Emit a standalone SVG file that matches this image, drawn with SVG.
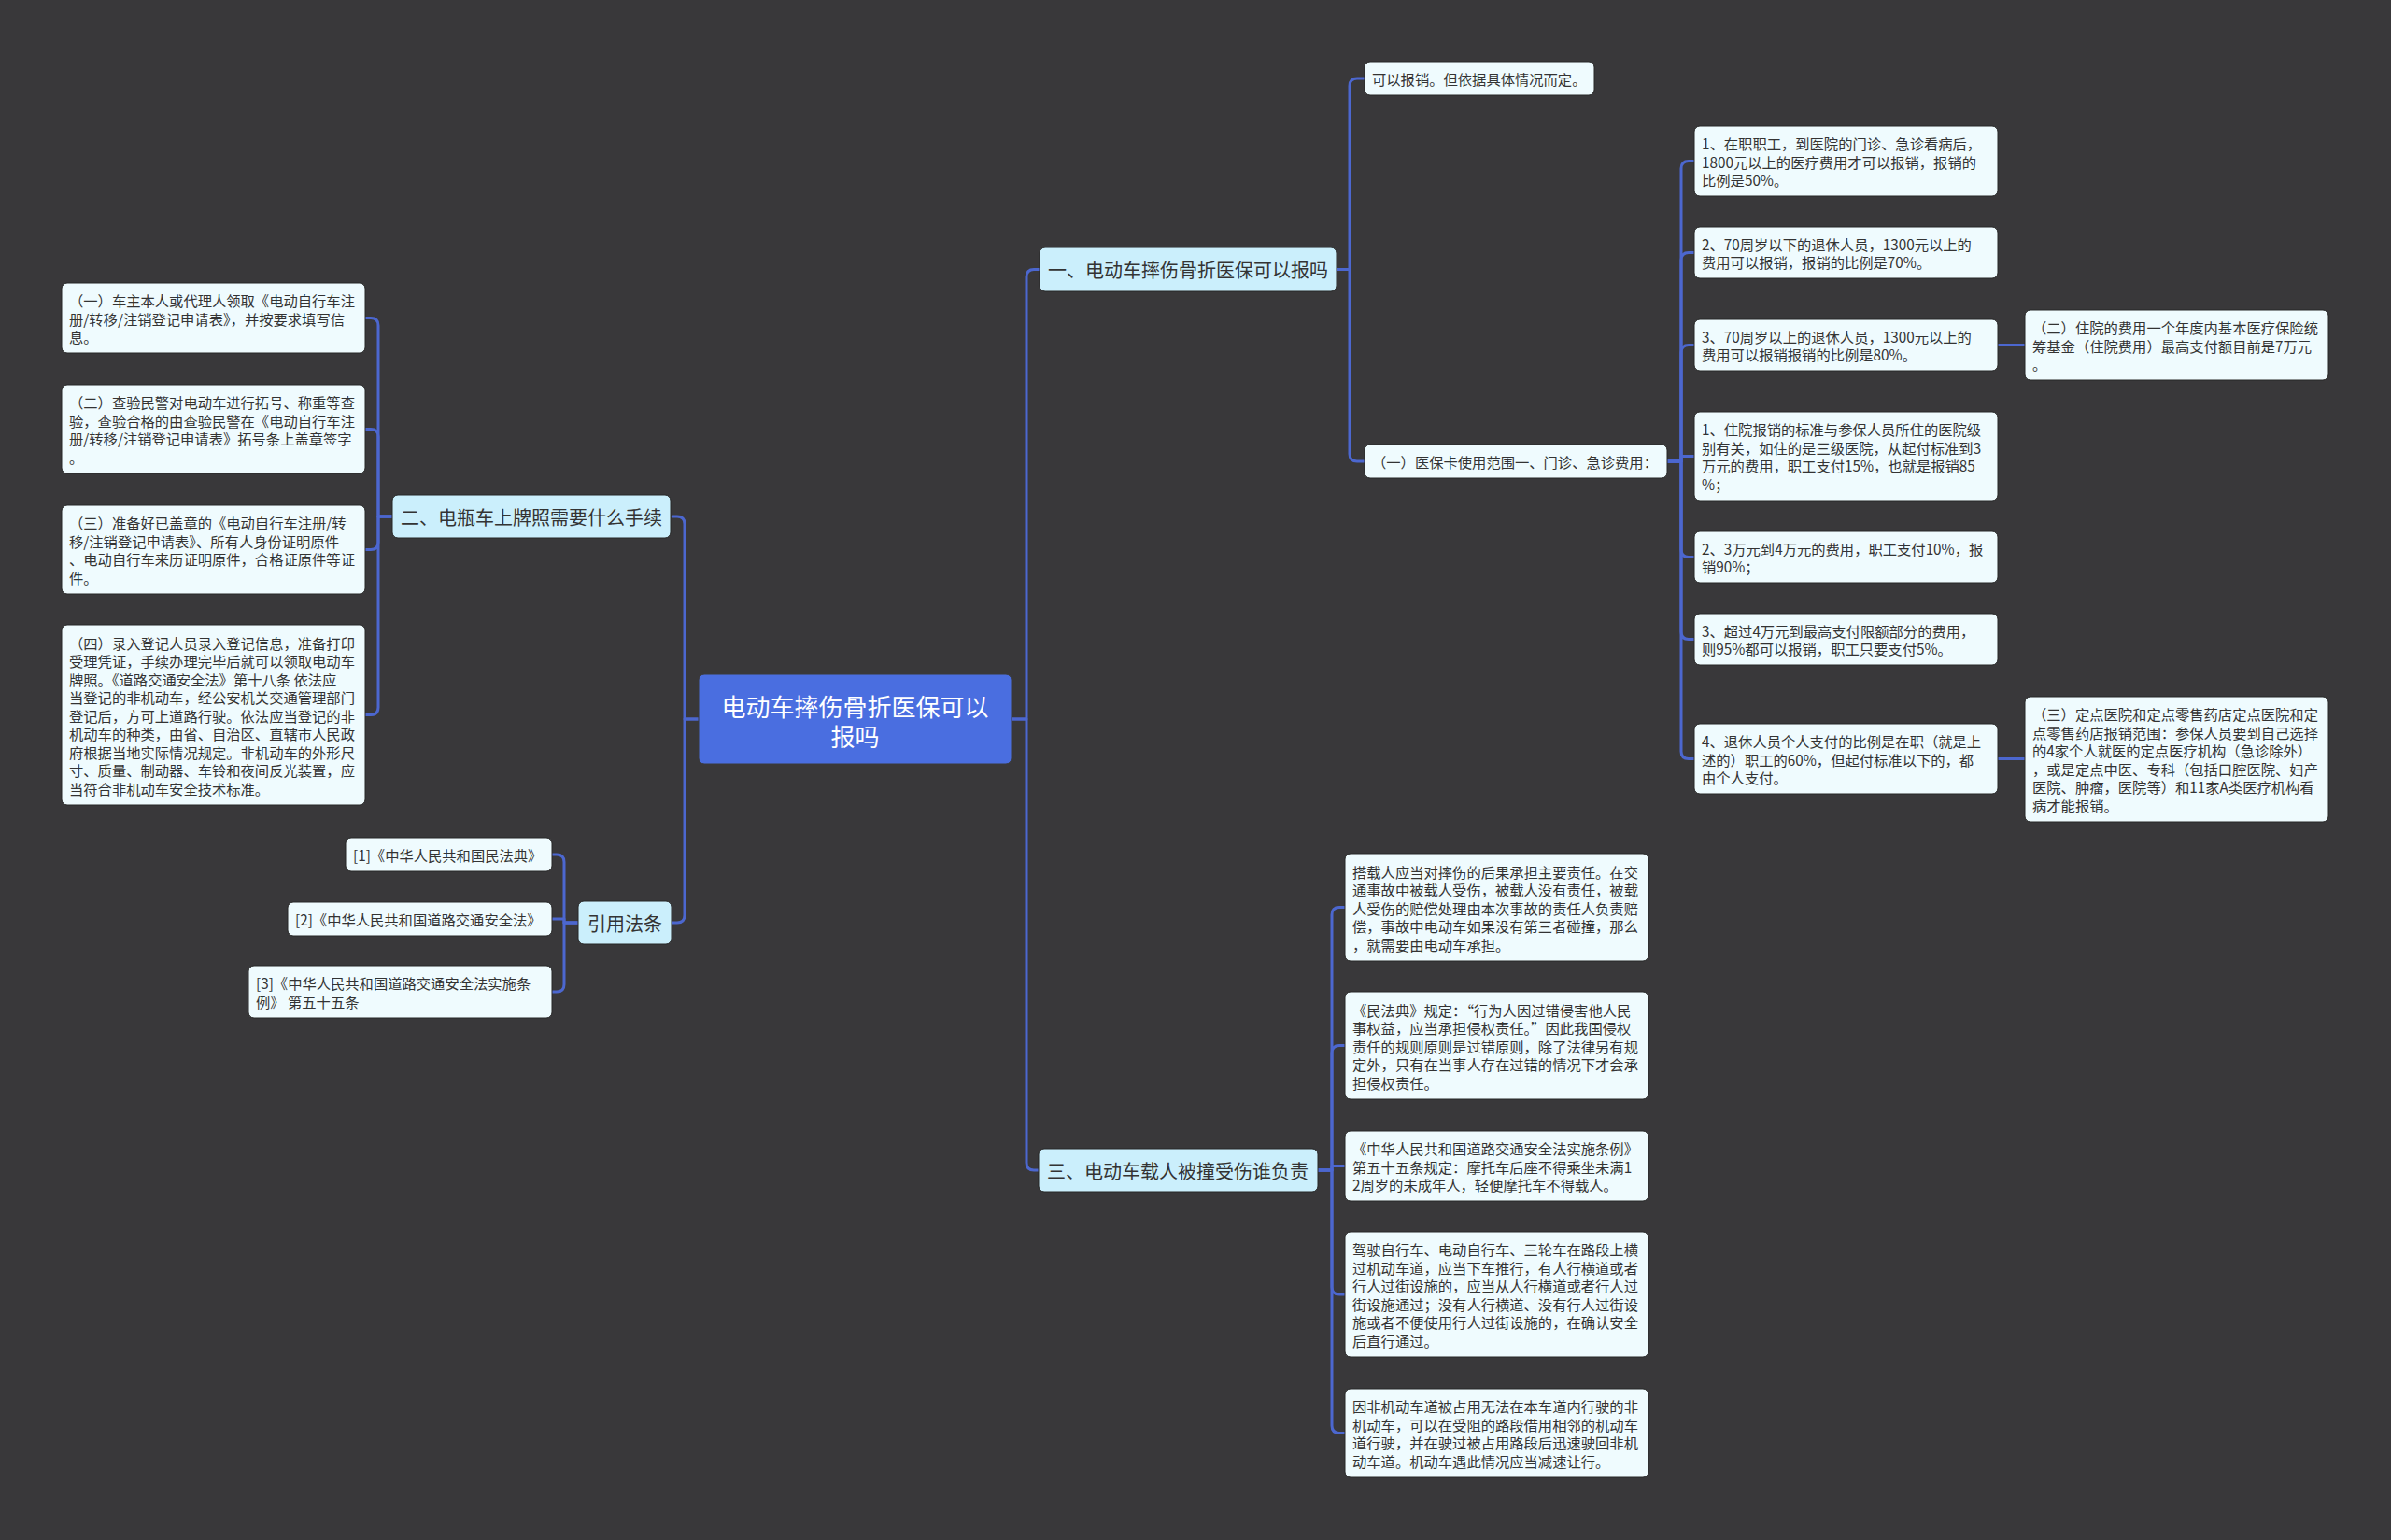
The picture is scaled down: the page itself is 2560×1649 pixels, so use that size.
<svg xmlns="http://www.w3.org/2000/svg" width="2560" height="1649" viewBox="0 0 2560 1649">
<defs>
<style>
.bg{fill:#39383a}
.leaf{fill:#effbfe;stroke:#262626;stroke-width:1}
.l1{fill:#cbeffc;stroke:#262626;stroke-width:1}
.root{fill:#4a6ee0;stroke:#3a3a3a;stroke-width:1}
.t{font-family:"Noto Sans CJK SC","Liberation Sans",sans-serif;font-size:15.3px;fill:#333333;dominant-baseline:central}
.t1{font-family:"Noto Sans CJK SC","Liberation Sans",sans-serif;font-size:20px;fill:#333333;dominant-baseline:central}
.tr{font-family:"Noto Sans CJK SC","Liberation Sans",sans-serif;font-size:26px;fill:#ffffff;dominant-baseline:central;text-anchor:middle}
.c{fill:none;stroke:#4c67cf;stroke-width:3;stroke-linecap:round;stroke-linejoin:round}
</style>
</defs>
<rect class="bg" x="0" y="0" width="2560" height="1649"/>

<g id="connectors">
<!-- root to trunks -->
<path class="c" d="M1083 770 H1099 V296.5 Q1099 288.5 1107 288.5 H1113"/>
<path class="c" d="M1083 770 H1099 V1245 Q1099 1253 1107 1253 H1112"/>
<path class="c" d="M748 770 H733 V561 Q733 553 725 553 H720"/>
<path class="c" d="M748 770 H733 V980 Q733 988 725 988 H719"/>
<!-- 二 children -->
<path class="c" d="M420 553 H405 V348.5 Q405 340.5 397 340.5 H391"/>
<path class="c" d="M420 553 H405 V467.5 Q405 459.5 397 459.5 H391"/>
<path class="c" d="M420 553 H405 V580.5 Q405 588.5 397 588.5 H391"/>
<path class="c" d="M420 553 H405 V757.5 Q405 765.5 397 765.5 H391"/>
<!-- 引用法条 children -->
<path class="c" d="M619 988 H604 V923 Q604 915 596 915 H591"/>
<path class="c" d="M619 988 H604 V984 H591"/>
<path class="c" d="M619 988 H604 V1054 Q604 1062 596 1062 H591"/>
<!-- 一 children -->
<path class="c" d="M1431 288.5 H1445 V92 Q1445 84 1453 84 H1461"/>
<path class="c" d="M1431 288.5 H1445 V486 Q1445 494 1453 494 H1461"/>
<!-- 医保卡 children -->
<path class="c" d="M1785 494 H1800 V180.5 Q1800 172.5 1808 172.5 H1814"/>
<path class="c" d="M1785 494 H1800 V278.5 Q1800 270.5 1808 270.5 H1814"/>
<path class="c" d="M1785 494 H1800 V377.5 Q1800 369.5 1808 369.5 H1814"/>
<path class="c" d="M1785 494 H1800 V488.5 H1814"/>
<path class="c" d="M1785 494 H1800 V588.5 Q1800 596.5 1808 596.5 H1814"/>
<path class="c" d="M1785 494 H1800 V676.5 Q1800 684.5 1808 684.5 H1814"/>
<path class="c" d="M1785 494 H1800 V804.5 Q1800 812.5 1808 812.5 H1814"/>
<path class="c" d="M2139 369.5 H2168"/>
<path class="c" d="M2139 812.5 H2168"/>
<!-- 三 children -->
<path class="c" d="M1411 1253 H1426 V979.5 Q1426 971.5 1434 971.5 H1440"/>
<path class="c" d="M1411 1253 H1426 V1127.5 Q1426 1119.5 1434 1119.5 H1440"/>
<path class="c" d="M1411 1253 H1426 V1248.5 H1440"/>
<path class="c" d="M1411 1253 H1426 V1378 Q1426 1386 1434 1386 H1440"/>
<path class="c" d="M1411 1253 H1426 V1526.5 Q1426 1534.5 1434 1534.5 H1440"/>
</g>

<g id="root">
<rect class="root" x="748" y="722" width="335" height="96" rx="6"/>
<text class="tr"><tspan x="915.5" y="755">电动车摔伤骨折医保可以</tspan><tspan x="915.5" y="787">报吗</tspan></text>
</g>

<g id="n-er">
<rect class="l1" x="420" y="530" width="298" height="46" rx="6"/>
<text class="t1" x="429" y="553">二、电瓶车上牌照需要什么手续</text>
</g>
<g id="n-er-1">
<rect class="leaf" x="66" y="303" width="325" height="75" rx="6"/>
<text class="t"><tspan x="74" y="321">（一）车主本人或代理人领取《电动自行车注</tspan><tspan x="74" y="340.5">册/转移/注销登记申请表》，并按要求填写信</tspan><tspan x="74" y="360">息。</tspan></text>
</g>
<g id="n-er-2">
<rect class="leaf" x="66" y="412" width="325" height="95" rx="6"/>
<text class="t"><tspan x="74" y="430.25">（二）查验民警对电动车进行拓号、称重等查</tspan><tspan x="74" y="449.75">验，查验合格的由查验民警在《电动自行车注</tspan><tspan x="74" y="469.25">册/转移/注销登记申请表》拓号条上盖章签字</tspan><tspan x="74" y="488.75">。</tspan></text>
</g>
<g id="n-er-3">
<rect class="leaf" x="66" y="541" width="325" height="95" rx="6"/>
<text class="t"><tspan x="74" y="559.25">（三）准备好已盖章的《电动自行车注册/转</tspan><tspan x="74" y="578.75">移/注销登记申请表》、所有人身份证明原件</tspan><tspan x="74" y="598.25">、电动自行车来历证明原件，合格证原件等证</tspan><tspan x="74" y="617.75">件。</tspan></text>
</g>
<g id="n-er-4">
<rect class="leaf" x="66" y="669" width="325" height="193" rx="6"/>
<text class="t"><tspan x="74" y="687.5">（四）录入登记人员录入登记信息，准备打印</tspan><tspan x="74" y="707">受理凭证，手续办理完毕后就可以领取电动车</tspan><tspan x="74" y="726.5">牌照。《道路交通安全法》第十八条 依法应</tspan><tspan x="74" y="746">当登记的非机动车，经公安机关交通管理部门</tspan><tspan x="74" y="765.5">登记后，方可上道路行驶。依法应当登记的非</tspan><tspan x="74" y="785">机动车的种类，由省、自治区、直辖市人民政</tspan><tspan x="74" y="804.5">府根据当地实际情况规定。非机动车的外形尺</tspan><tspan x="74" y="824">寸、质量、制动器、车铃和夜间反光装置，应</tspan><tspan x="74" y="843.5">当符合非机动车安全技术标准。</tspan></text>
</g>

<g id="n-ref">
<rect class="l1" x="619" y="965" width="100" height="46" rx="6"/>
<text class="t1" x="629" y="988">引用法条</text>
</g>
<g id="n-ref-1">
<rect class="leaf" x="370" y="897" width="221" height="36" rx="6"/>
<text class="t" x="378" y="915">[1]《中华人民共和国民法典》</text>
</g>
<g id="n-ref-2">
<rect class="leaf" x="308" y="966" width="283" height="36" rx="6"/>
<text class="t" x="316" y="984">[2]《中华人民共和国道路交通安全法》</text>
</g>
<g id="n-ref-3">
<rect class="leaf" x="266" y="1034" width="325" height="56" rx="6"/>
<text class="t"><tspan x="274" y="1052.25">[3]《中华人民共和国道路交通安全法实施条</tspan><tspan x="274" y="1071.75">例》 第五十五条</tspan></text>
</g>

<g id="n-yi">
<rect class="l1" x="1113" y="265" width="318" height="47" rx="6"/>
<text class="t1" x="1122" y="288.5">一、电动车摔伤骨折医保可以报吗</text>
</g>
<g id="n-yi-1">
<rect class="leaf" x="1461" y="66" width="246" height="36" rx="6"/>
<text class="t" x="1469" y="84">可以报销。但依据具体情况而定。</text>
</g>
<g id="n-yi-2">
<rect class="leaf" x="1461" y="476" width="324" height="36" rx="6"/>
<text class="t" x="1469" y="494">（一）医保卡使用范围一、门诊、急诊费用：</text>
</g>
<g id="n-c1">
<rect class="leaf" x="1814" y="135" width="325" height="75" rx="6"/>
<text class="t"><tspan x="1822" y="153">1、在职职工，到医院的门诊、急诊看病后，</tspan><tspan x="1822" y="172.5">1800元以上的医疗费用才可以报销，报销的</tspan><tspan x="1822" y="192">比例是50%。</tspan></text>
</g>
<g id="n-c2">
<rect class="leaf" x="1814" y="243" width="325" height="55" rx="6"/>
<text class="t"><tspan x="1822" y="260.75">2、70周岁以下的退休人员，1300元以上的</tspan><tspan x="1822" y="280.25">费用可以报销，报销的比例是70%。</tspan></text>
</g>
<g id="n-c3">
<rect class="leaf" x="1814" y="342" width="325" height="55" rx="6"/>
<text class="t"><tspan x="1822" y="359.75">3、70周岁以上的退休人员，1300元以上的</tspan><tspan x="1822" y="379.25">费用可以报销报销的比例是80%。</tspan></text>
</g>
<g id="n-c3a">
<rect class="leaf" x="2168" y="332" width="325" height="75" rx="6"/>
<text class="t"><tspan x="2176" y="350">（二）住院的费用一个年度内基本医疗保险统</tspan><tspan x="2176" y="369.5">筹基金（住院费用）最高支付额目前是7万元</tspan><tspan x="2176" y="389">。</tspan></text>
</g>
<g id="n-c4">
<rect class="leaf" x="1814" y="441" width="325" height="95" rx="6"/>
<text class="t"><tspan x="1822" y="459.25">1、住院报销的标准与参保人员所住的医院级</tspan><tspan x="1822" y="478.75">别有关，如住的是三级医院，从起付标准到3</tspan><tspan x="1822" y="498.25">万元的费用，职工支付15%，也就是报销85</tspan><tspan x="1822" y="517.75">%；</tspan></text>
</g>
<g id="n-c5">
<rect class="leaf" x="1814" y="569" width="325" height="55" rx="6"/>
<text class="t"><tspan x="1822" y="586.75">2、3万元到4万元的费用，职工支付10%，报</tspan><tspan x="1822" y="606.25">销90%；</tspan></text>
</g>
<g id="n-c6">
<rect class="leaf" x="1814" y="657" width="325" height="55" rx="6"/>
<text class="t"><tspan x="1822" y="674.75">3、超过4万元到最高支付限额部分的费用，</tspan><tspan x="1822" y="694.25">则95%都可以报销，职工只要支付5%。</tspan></text>
</g>
<g id="n-c7">
<rect class="leaf" x="1814" y="775" width="325" height="75" rx="6"/>
<text class="t"><tspan x="1822" y="793">4、退休人员个人支付的比例是在职（就是上</tspan><tspan x="1822" y="812.5">述的）职工的60%，但起付标准以下的，都</tspan><tspan x="1822" y="832">由个人支付。</tspan></text>
</g>
<g id="n-c7a">
<rect class="leaf" x="2168" y="746" width="325" height="134" rx="6"/>
<text class="t"><tspan x="2176" y="764.25">（三）定点医院和定点零售药店定点医院和定</tspan><tspan x="2176" y="783.75">点零售药店报销范围：参保人员要到自己选择</tspan><tspan x="2176" y="803.25">的4家个人就医的定点医疗机构（急诊除外）</tspan><tspan x="2176" y="822.75">，或是定点中医、专科（包括口腔医院、妇产</tspan><tspan x="2176" y="842.25">医院、肿瘤，医院等）和11家A类医疗机构看</tspan><tspan x="2176" y="861.75">病才能报销。</tspan></text>
</g>

<g id="n-san">
<rect class="l1" x="1112" y="1230" width="299" height="46" rx="6"/>
<text class="t1" x="1121" y="1253">三、电动车载人被撞受伤谁负责</text>
</g>
<g id="n-k1">
<rect class="leaf" x="1440" y="914" width="325" height="115" rx="6"/>
<text class="t"><tspan x="1448" y="932.5">搭载人应当对摔伤的后果承担主要责任。在交</tspan><tspan x="1448" y="952">通事故中被载人受伤，被载人没有责任，被载</tspan><tspan x="1448" y="971.5">人受伤的赔偿处理由本次事故的责任人负责赔</tspan><tspan x="1448" y="991">偿，事故中电动车如果没有第三者碰撞，那么</tspan><tspan x="1448" y="1010.5">，就需要由电动车承担。</tspan></text>
</g>
<g id="n-k2">
<rect class="leaf" x="1440" y="1062" width="325" height="115" rx="6"/>
<text class="t"><tspan x="1448" y="1080.5">《民法典》规定：“行为人因过错侵害他人民</tspan><tspan x="1448" y="1100">事权益，应当承担侵权责任。”因此我国侵权</tspan><tspan x="1448" y="1119.5">责任的规则原则是过错原则，除了法律另有规</tspan><tspan x="1448" y="1139">定外，只有在当事人存在过错的情况下才会承</tspan><tspan x="1448" y="1158.5">担侵权责任。</tspan></text>
</g>
<g id="n-k3">
<rect class="leaf" x="1440" y="1211" width="325" height="75" rx="6"/>
<text class="t"><tspan x="1448" y="1229">《中华人民共和国道路交通安全法实施条例》</tspan><tspan x="1448" y="1248.5">第五十五条规定：摩托车后座不得乘坐未满1</tspan><tspan x="1448" y="1268">2周岁的未成年人，轻便摩托车不得载人。</tspan></text>
</g>
<g id="n-k4">
<rect class="leaf" x="1440" y="1319" width="325" height="134" rx="6"/>
<text class="t"><tspan x="1448" y="1337.25">驾驶自行车、电动自行车、三轮车在路段上横</tspan><tspan x="1448" y="1356.75">过机动车道，应当下车推行，有人行横道或者</tspan><tspan x="1448" y="1376.25">行人过街设施的，应当从人行横道或者行人过</tspan><tspan x="1448" y="1395.75">街设施通过；没有人行横道、没有行人过街设</tspan><tspan x="1448" y="1415.25">施或者不便使用行人过街设施的，在确认安全</tspan><tspan x="1448" y="1434.75">后直行通过。</tspan></text>
</g>
<g id="n-k5">
<rect class="leaf" x="1440" y="1487" width="325" height="95" rx="6"/>
<text class="t"><tspan x="1448" y="1505.25">因非机动车道被占用无法在本车道内行驶的非</tspan><tspan x="1448" y="1524.75">机动车，可以在受阻的路段借用相邻的机动车</tspan><tspan x="1448" y="1544.25">道行驶，并在驶过被占用路段后迅速驶回非机</tspan><tspan x="1448" y="1563.75">动车道。机动车遇此情况应当减速让行。</tspan></text>
</g>
</svg>
